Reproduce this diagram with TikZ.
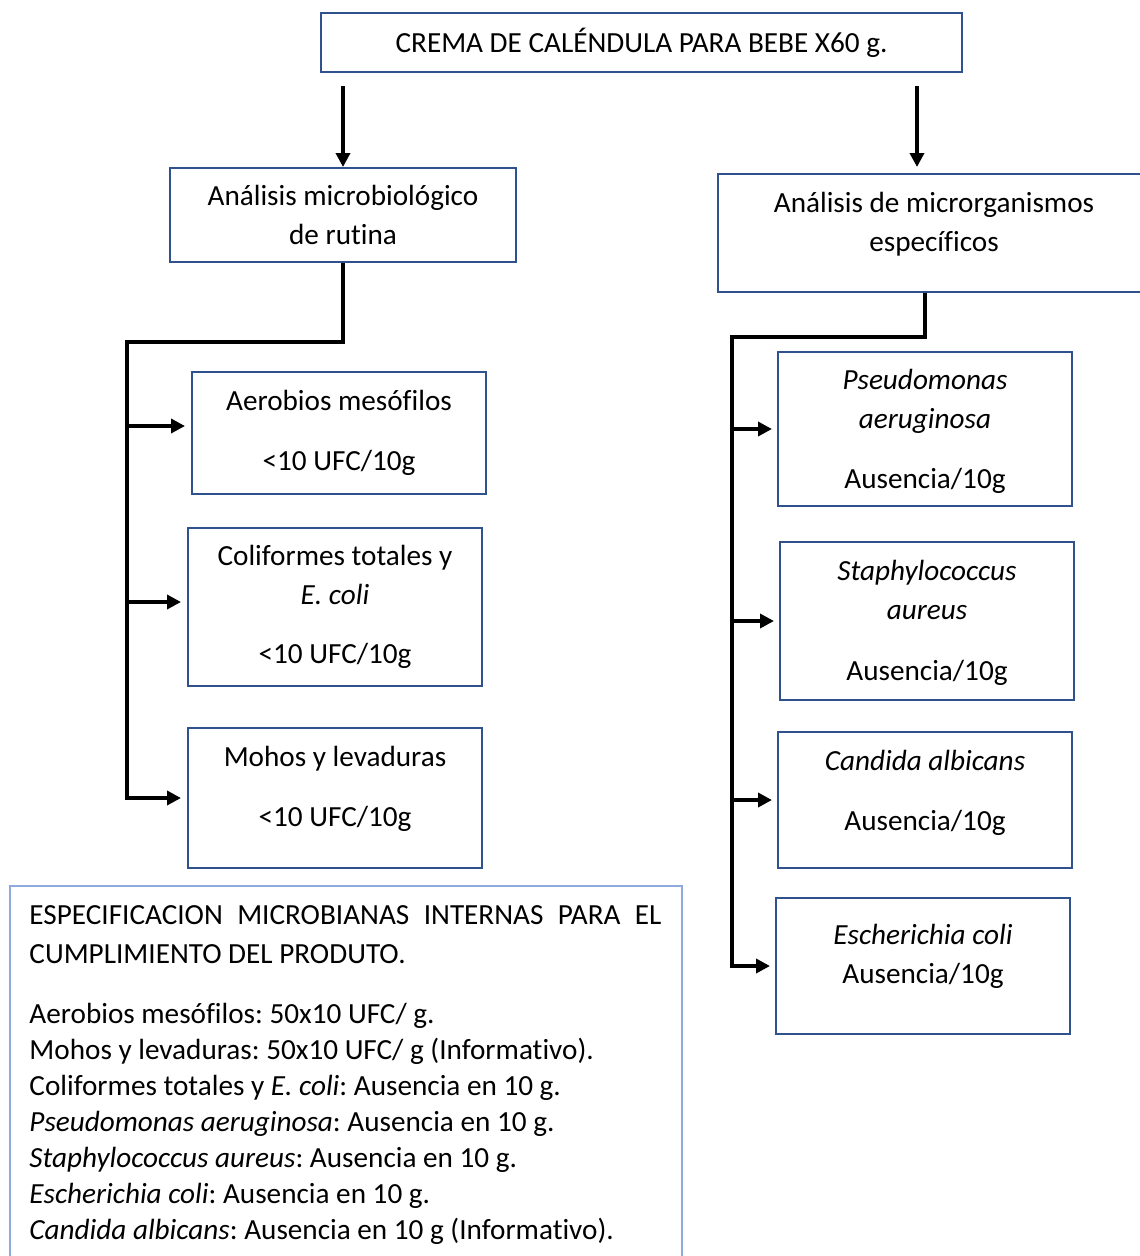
\documentclass[tikz,border=0pt]{standalone}
\usepackage{fontspec}
\setmainfont{Carlito}[Ligatures=NoCommon]
\frenchspacing
\usetikzlibrary{arrows.meta,calc,positioning}
\definecolor{boxblue}{HTML}{2F528F}
\definecolor{noteblue}{HTML}{8FAADC}

\begin{document}
\begin{tikzpicture}[x=1pt,y=-1pt,font=\fontsize{29.2}{39}\selectfont,
	arr/.style={line width=3.5pt,-{Triangle[length=14pt,width=14pt]}},
	trunk/.style={line width=3.5pt}]

	\useasboundingbox (0,0) rectangle (1140,1256);
	\clip (0,0) rectangle (1140,1256);

	\begin{scope}[every node/.style={draw=boxblue,line width=2pt,rectangle,align=center,inner sep=0pt,fill=white}]
		\node[minimum width=641pt,minimum height=59pt] (crema) at (641.5,42.5) {CREMA DE CALÉNDULA PARA BEBE X60 g.};
		\node[minimum width=346pt,minimum height=94pt] (rutina) at (343,215) {Análisis microbiológico\\de rutina};
		\node[minimum width=432pt,minimum height=118pt,text depth=23pt] (spec) at (934,233) {Análisis de microrganismos\\específicos};

		\node[minimum width=294pt,minimum height=122pt] (aer) at (339,433) {Aerobios mesófilos\\[21pt]<10 UFC/10g};
		\node[minimum width=294pt,minimum height=158pt] (coli) at (335,607) {Coliformes totales y\\\textit{E. coli}\\[20pt]<10 UFC/10g};
		\node[minimum width=294pt,minimum height=140pt,text depth=23pt] (mohos) at (335,798) {Mohos y levaduras\\[21pt]<10 UFC/10g};

		\node[minimum width=294pt,minimum height=154pt,text depth=0pt] (pseu) at (925,429) {\textit{Pseudomonas}\\\textit{aeruginosa}\\[21pt]Ausencia/10g};
		\node[minimum width=294pt,minimum height=158pt,text depth=1pt] (staph) at (927,621) {\textit{Staphylococcus}\\\textit{aureus}\\[22pt]Ausencia/10g};
		\node[minimum width=294pt,minimum height=136pt,text depth=19pt] (cand) at (925,800) {\textit{Candida albicans}\\[21pt]Ausencia/10g};
		\node[minimum width=294pt,minimum height=136pt,text depth=25pt] (esch) at (923,966) {\textit{Escherichia coli}\\Ausencia/10g};
	\end{scope}

	\node[draw=noteblue,line width=1.5pt,minimum width=672pt,minimum height=390pt,inner sep=0pt] (nota) at (346,1081) {};
	\node[anchor=north west,inner sep=0pt,text width=632pt,align=justify,font=\fontsize{29.2}{36}\selectfont] (notatxt) at ($(nota.north west)+(20,20)$)
		{{\fontsize{29.2}{39}\selectfont ESPECIFICACION MICROBIANAS INTERNAS PARA EL CUMPLIMIENTO DEL PRODUTO.\par}
		\vspace{24pt}\raggedright
		Aerobios mesófilos: 50x10 UFC/ g.\\
		Mohos y levaduras: 50x10 UFC/ g (Informativo).\\
		Coliformes totales y \textit{E. coli}: Ausencia en 10 g.\\
		\textit{Pseudomonas aeruginosa}: Ausencia en 10 g.\\
		\textit{Staphylococcus aureus}: Ausencia en 10 g.\\
		\textit{Escherichia coli}: Ausencia en 10 g.\\
		\textit{Candida albicans}: Ausencia en 10 g (Informativo).};

	\coordinate (rtop) at ($(spec.north west)+(200,0)$);
	\draw[arr] ($(crema.south -| rutina.north)+(0,13)$) -- (rutina.north);
	\draw[arr,shorten >=6pt] ($(crema.south -| rtop)+(0,13)$) -- (rtop);

	\coordinate (lbend) at (127,342);
	\coordinate (aerin) at ($(aer.west)+(0,-7)$);
	\coordinate (coliin) at ($(coli.west)+(0,-5)$);
	\draw[arr,shorten >=6pt] (rutina.south) |- (lbend) |- (mohos.west);
	\draw[arr,shorten >=6pt] (lbend |- aerin) -- (aerin);
	\draw[arr,shorten >=6pt] (lbend |- coliin) -- (coliin);

	\coordinate (rbend) at (732,337);
	\draw[arr,shorten >=5pt] (pseu.north |- spec.south) |- (rbend) |- (esch.west);
	\draw[arr,shorten >=5pt] (rbend |- pseu.west) -- (pseu.west);
	\draw[arr,shorten >=5pt] (rbend |- staph.west) -- (staph.west);
	\draw[arr,shorten >=5pt] (rbend |- cand.west) -- (cand.west);

\end{tikzpicture}
\end{document}
